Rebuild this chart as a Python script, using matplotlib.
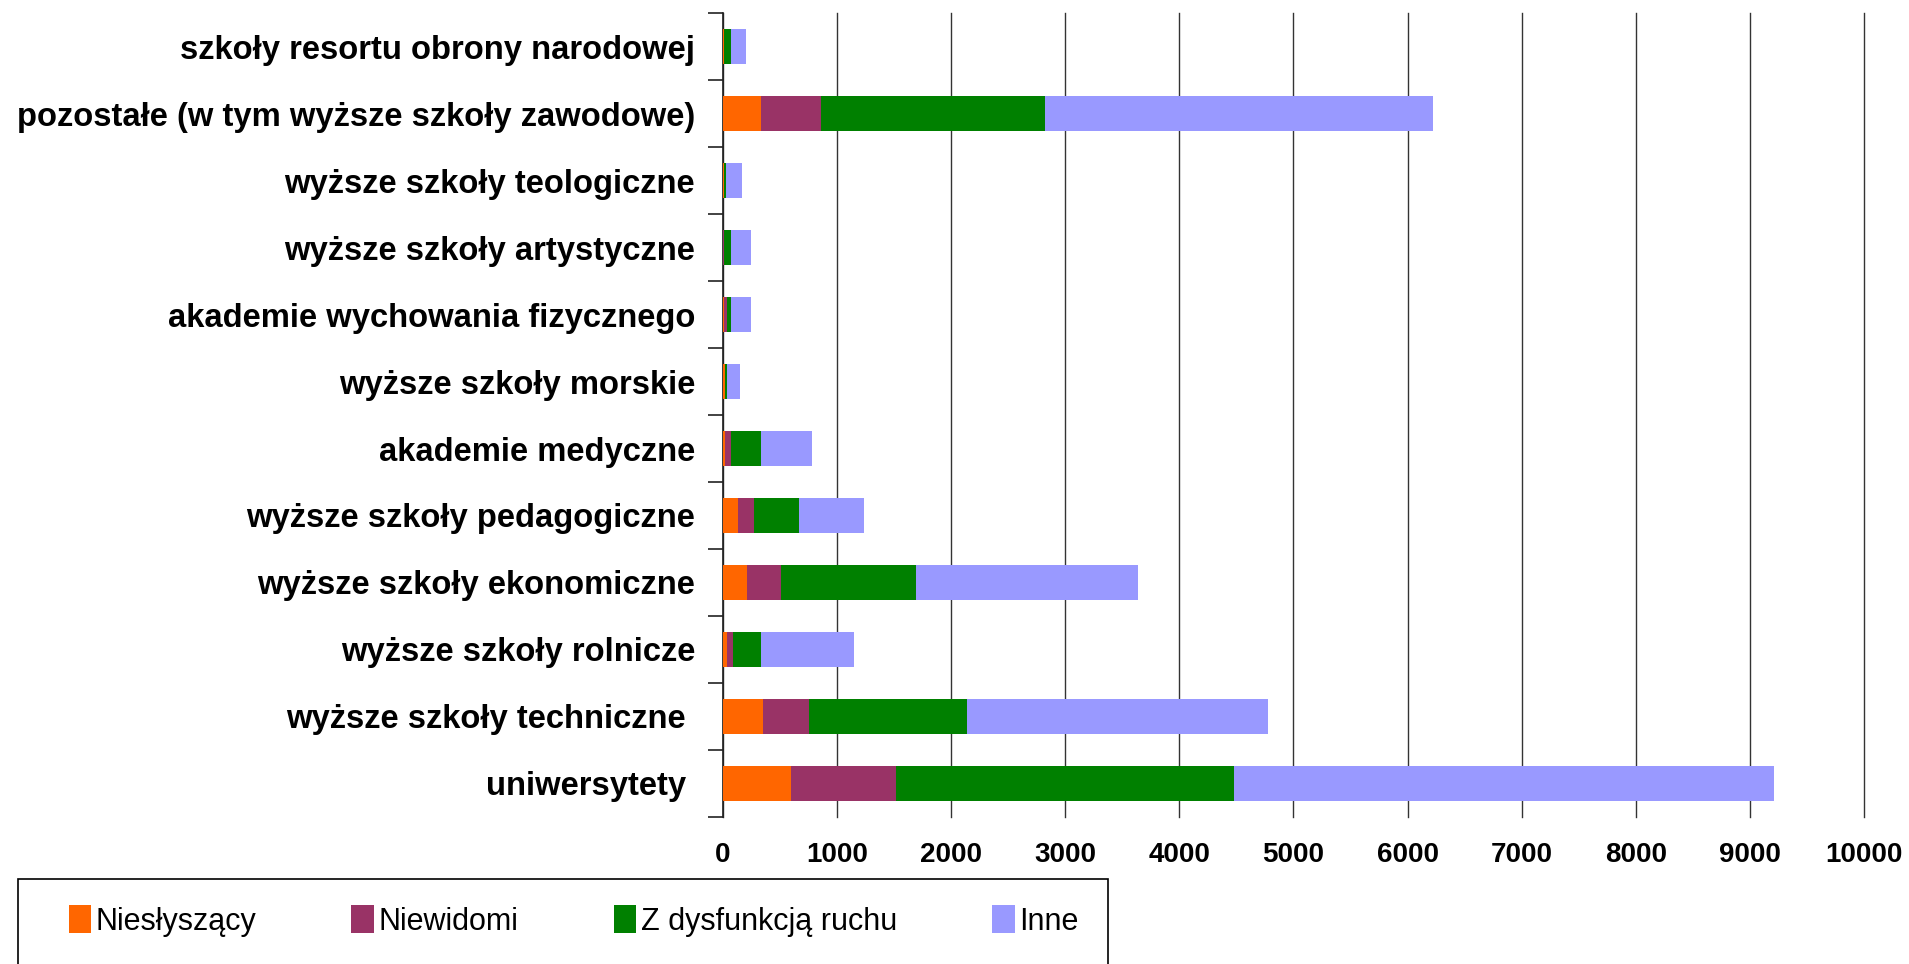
import matplotlib

matplotlib.use("Agg")
import matplotlib.pyplot as plt
import numpy as np
from matplotlib.patches import Rectangle

# categories listed bottom -> top
CATEGORIES = [
    "uniwersytety ",
    "wyższe szkoły techniczne ",
    "wyższe szkoły rolnicze",
    "wyższe szkoły ekonomiczne",
    "wyższe szkoły pedagogiczne",
    "akademie medyczne",
    "wyższe szkoły morskie",
    "akademie wychowania fizycznego",
    "wyższe szkoły artystyczne",
    "wyższe szkoły teologiczne",
    "pozostałe (w tym wyższe szkoły zawodowe)",
    "szkoły resortu obrony narodowej",
]
NIESLYSZACY = [596, 355, 32, 210, 131, 15, 14, 5, 3, 5, 330, 5]
NIEWIDOMI = [925, 402, 59, 298, 138, 58, 5, 30, 10, 5, 533, 5]
RUCH = [2956, 1381, 239, 1180, 397, 257, 16, 37, 59, 19, 1957, 62]
INNE = [4739, 2641, 823, 1947, 566, 450, 113, 174, 174, 139, 3404, 134]

SERIES = ["Niesłyszący", "Niewidomi", "Z dysfunkcją ruchu", "Inne"]
COLORS = ["#FF6600", "#993366", "#008000", "#9999FF"]
X_TICKS = list(range(0, 10001, 1000))

plt.rcParams["font.family"] = ["Liberation Sans", "DejaVu Sans"]

fig = plt.figure(figsize=(19.09, 9.64), dpi=100)
ax = fig.add_axes([0.3787, 0.1525, 0.5977, 0.834])

y = np.arange(len(CATEGORIES))
left = np.zeros(len(CATEGORIES))
handles = []
for name, values, color in zip(SERIES, (NIESLYSZACY, NIEWIDOMI, RUCH, INNE), COLORS):
    bars = ax.barh(y, values, left=left, height=0.53, color=color, edgecolor="none", label=name, zorder=3)
    handles.append(bars)
    left = left + np.array(values)

ax.set_xlim(0, 10000)
ax.set_ylim(-0.5, len(CATEGORIES) - 0.5)
ax.set_xticks(X_TICKS)
ax.set_xticklabels([str(v) for v in X_TICKS], fontsize=20, fontweight="bold")
ax.tick_params(axis="x", length=0, pad=18)
ax.xaxis.grid(True, color="#333333", linewidth=1.0, zorder=0)
for line in ax.get_xgridlines():
    line.set_clip_on(False)

ax.set_yticks(y)
ax.set_yticklabels(CATEGORIES, fontsize=23.6, fontweight="bold")
ax.tick_params(axis="y", which="major", length=0, pad=20)
ax.set_yticks(np.arange(-0.5, len(CATEGORIES)), minor=True)
ax.tick_params(axis="y", which="minor", length=11, width=1.2, color="#222222")

for side in ("top", "right", "bottom"):
    ax.spines[side].set_visible(False)
ax.spines["left"].set_color("#222222")
ax.spines["left"].set_linewidth(1.2)

# legend box runs off the bottom edge of the figure
fig.patches.append(Rectangle((18 / 1909, -0.05), 1090 / 1909, 0.05 + 85 / 964,
                             transform=fig.transFigure, fill=False, edgecolor="black",
                             linewidth=1.2))
fig.legend(handles=handles, labels=SERIES, loc="center left",
           bbox_to_anchor=(41 / 1909, 1 - 921 / 964), ncol=4, frameon=False,
           fontsize=22, handlelength=0.75, handleheight=1.0, handletextpad=0.15,
           columnspacing=3.1)

fig.savefig("out.png", dpi=100)
